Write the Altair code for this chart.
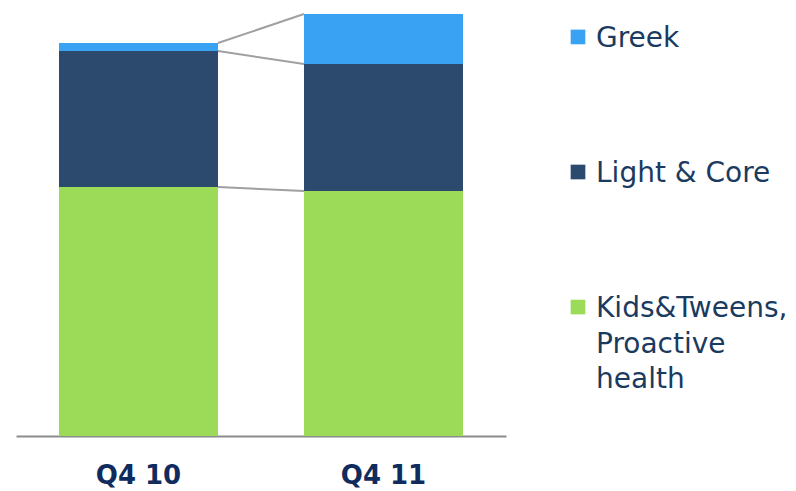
import altair as alt
import pandas as pd

quarters = ["Q4 10", "Q4 11"]
series = ["Kids&Tweens,\nProactive\nhealth", "Light & Core", "Greek"]
kids_values = [249, 245]
light_values = [136, 127]
greek_values = [8, 50]
colors = ["#9CDB58", "#2C4A6E", "#3AA2F2"]

values_by_series = [kids_values, light_values, greek_values]

rows = []
for si, (s, vals) in enumerate(zip(series, values_by_series)):
    for q, v in zip(quarters, vals):
        rows.append({"quarter": q, "series": s, "value": v, "order": si})
bars_df = pd.DataFrame(rows)

# connector lines between cumulative tops
conn = []
cum = [0, 0]
for s, vals in zip(series, values_by_series):
    cum = [cum[0] + vals[0], cum[1] + vals[1]]
    conn.append({"from_q": quarters[0], "to_q": quarters[1], "y1": cum[0], "y2": cum[1]})
conn_df = pd.DataFrame(conn)

legend_order = ["Greek", "Light & Core", "Kids&Tweens,\nProactive\nhealth"]
legend_df = pd.DataFrame({"series": legend_order})

color_scale = alt.Scale(domain=series, range=colors)
yscale = alt.Scale(domain=[0, 422], nice=False, zero=True)
xscale = alt.Scale(domain=quarters, paddingInner=0.351, paddingOuter=0.1755)

bars = alt.Chart(bars_df).mark_bar().encode(
    x=alt.X("quarter:N", scale=xscale, sort=quarters,
            axis=alt.Axis(title=None, labelAngle=0, ticks=False,
                          labelFont="DejaVu Sans", labelFontSize=26,
                          labelFontWeight="bold", labelColor="#102C5E",
                          labelPadding=26, domainColor="#8C8C8C",
                          domainWidth=2)),
    y=alt.Y("value:Q", stack="zero", scale=yscale, axis=None),
    color=alt.Color("series:N", scale=color_scale, legend=None),
    order=alt.Order("order:Q"),
)

lines = alt.Chart(conn_df).mark_rule(color="#A0A0A0", strokeWidth=2).encode(
    x=alt.X("from_q:N", scale=xscale, sort=quarters, bandPosition=1),
    x2=alt.X2("to_q:N", bandPosition=0),
    y=alt.Y("y1:Q", scale=yscale),
    y2="y2:Q",
)

main = alt.layer(bars, lines).properties(width=490, height=422)

lscale = alt.Scale(type="point", domain=legend_order, padding=0.17)
leg_sq = alt.Chart(legend_df).mark_square(size=215, opacity=1).encode(
    x=alt.value(7),
    y=alt.Y("series:N", scale=lscale, axis=None),
    color=alt.Color("series:N", scale=color_scale, legend=None),
)
leg_tx = alt.Chart(legend_df).mark_text(
    align="left", baseline="top", dy=-12, font="DejaVu Sans", fontSize=28,
    lineHeight=35.5, lineBreak="\n", color="#1B3A5F"
).encode(
    x=alt.value(25),
    y=alt.Y("series:N", scale=lscale, axis=None),
    text="series:N",
)
legend = alt.layer(leg_sq, leg_tx).properties(width=210, height=316)

chart = alt.hconcat(main, legend, spacing=64).properties(
    padding={"left": 16, "top": 13, "right": 0, "bottom": 0}
).configure_view(stroke=None)

chart.save("out.html", embed_options={"renderer": "svg", "actions": False})
